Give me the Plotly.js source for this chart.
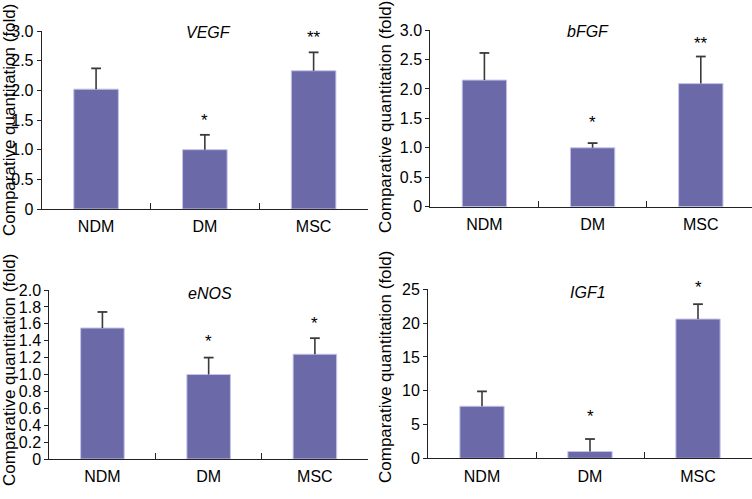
<!DOCTYPE html>
<html>
<head>
<meta charset="utf-8">
<script src="https://cdn.plot.ly/plotly-3.0.1.min.js"></script>
<style>html,body{margin:0;padding:0;background:#fff;}#chart{width:752px;height:499px;}</style>
</head>
<body>
<div id="chart"></div>
<script>
// ---- data ----
var categories = ['NDM', 'DM', 'MSC'];

var vegfMean = [2.02, 1.00, 2.33];
var vegfErr  = [0.35, 0.25, 0.31];
var vegfStars = ['', '*', '**'];

var bfgfMean = [2.15, 1.00, 2.09];
var bfgfErr  = [0.46, 0.08, 0.46];
var bfgfStars = ['', '*', '**'];

var enosMean = [1.55, 1.00, 1.24];
var enosErr  = [0.19, 0.20, 0.19];
var enosStars = ['', '*', '*'];

var igf1Mean = [7.7, 1.0, 20.6];
var igf1Err  = [2.2, 1.85, 2.2];
var igf1Stars = ['', '*', '*'];

var geneNames = ['VEGF', 'bFGF', 'eNOS', 'IGF1'];
var yTitle = 'Comparative quantitation (fold)';

var ticks30 = [0, 0.5, 1.0, 1.5, 2.0, 2.5, 3.0];
var ticks30Text = ['0', '0.5', '1.0', '1.5', '2.0', '2.5', '3.0'];
var ticks20 = [0, 0.2, 0.4, 0.6, 0.8, 1.0, 1.2, 1.4, 1.6, 1.8, 2.0];
var ticks20Text = ['0', '0.2', '0.4', '0.6', '0.8', '1.0', '1.2', '1.4', '1.6', '1.8', '2.0'];
var ticks25 = [0, 5, 10, 15, 20, 25];
var ticks25Text = ['0', '5', '10', '15', '20', '25'];

// ---- styling / layout ----
var W = 752, H = 499;
var FONT = 'Liberation Sans, Arial, sans-serif';
var TXT = '#000';
var barColor = '#6b69a8';
var edgeColor = '#c4c4ea';
var errColor = '#3a3a3a';

var panels = [
  {mean: vegfMean, err: vegfErr, stars: vegfStars, name: geneNames[0], starShift: [0, 3, 3],
   xd: [41.7, 368], y0: 209, y1: 31, xr: [-0.5, 2.5], yr: [0, 3], tv: ticks30, tt: ticks30Text,
   title: [208, 33], ytitle: [9, 120]},
  {mean: bfgfMean, err: bfgfErr, stars: bfgfStars, name: geneNames[1], starShift: [0, 9, 2],
   xd: [430.3, 752], y0: 206.7, y1: 30, xr: [-0.5, -0.5 + (752 - 430.3) / 108.2], yr: [0, 3], tv: ticks30, tt: ticks30Text,
   title: [588, 32], ytitle: [385, 117]},
  {mean: enosMean, err: enosErr, stars: enosStars, name: geneNames[2], starShift: [0, 5, 3],
   xd: [49.3, 368], y0: 459, y1: 290, xr: [-0.5, 2.5], yr: [0, 2], tv: ticks20, tt: ticks20Text,
   title: [210, 293], ytitle: [9, 370]},
  {mean: igf1Mean, err: igf1Err, stars: igf1Stars, name: geneNames[3], starShift: [0, 11, 5],
   xd: [428, 752], y0: 458.3, y1: 289.3, xr: [-0.5, 2.5], yr: [0, 25], tv: ticks25, tt: ticks25Text,
   title: [588, 292], ytitle: [385, 367]}
];

var traces = [];
var layout = {
  width: W, height: H,
  margin: {l: 0, r: 0, t: 0, b: 0},
  paper_bgcolor: '#ffffff', plot_bgcolor: 'rgba(0,0,0,0)',
  showlegend: false,
  font: {family: FONT, size: 16, color: TXT},
  annotations: []
};

panels.forEach(function (p, k) {
  var n = k + 1;
  var xa = 'x' + (n === 1 ? '' : n), ya = 'y' + (n === 1 ? '' : n);
  var xKey = 'xaxis' + (n === 1 ? '' : n), yKey = 'yaxis' + (n === 1 ? '' : n);

  traces.push({
    type: 'bar', x: categories, y: p.mean, xaxis: xa, yaxis: ya,
    width: 0.41,
    marker: {color: barColor, line: {color: edgeColor, width: 1}},
    hoverinfo: 'skip'
  });
  // error stems (upper only)
  var sx = [], sy = [];
  categories.forEach(function (c, i) {
    sx.push(c, c, null);
    sy.push(p.mean[i], p.mean[i] + p.err[i], null);
  });
  traces.push({
    type: 'scatter', mode: 'lines', x: sx, y: sy, xaxis: xa, yaxis: ya,
    line: {color: errColor, width: 1.6}, hoverinfo: 'skip', cliponaxis: false
  });
  traces.push({
    type: 'scatter', mode: 'markers', x: categories,
    y: p.mean.map(function (m, i) { return m + p.err[i]; }),
    xaxis: xa, yaxis: ya,
    marker: {symbol: 'line-ew', size: 7, line: {color: errColor, width: 1.8}},
    hoverinfo: 'skip', cliponaxis: false
  });

  layout[xKey] = {
    domain: [p.xd[0] / W, p.xd[1] / W], anchor: ya, range: p.xr,
    type: 'category', showline: true, linecolor: '#222', linewidth: 1,
    ticks: 'inside', tickson: 'boundaries', ticklen: 6, tickcolor: '#222', tickwidth: 1,
    ticklabelstandoff: 3,
    showgrid: false, zeroline: false, fixedrange: true,
    tickfont: {family: FONT, size: 16, color: TXT}
  };
  layout[yKey] = {
    domain: [1 - p.y0 / H, 1 - p.y1 / H], anchor: xa, range: p.yr,
    showline: true, linecolor: '#222', linewidth: 1,
    ticks: 'outside', ticklen: 4, tickcolor: '#222', tickwidth: 1,
    tickvals: p.tv, ticktext: p.tt,
    showgrid: false, zeroline: false, fixedrange: true,
    tickfont: {family: FONT, size: 16, color: TXT}
  };

  layout.annotations.push({
    xref: 'paper', yref: 'paper', x: p.title[0] / W, y: 1 - p.title[1] / H,
    xanchor: 'center', yanchor: 'middle', showarrow: false,
    text: p.name, font: {family: FONT, size: 16, style: 'italic', color: TXT}
  });
  layout.annotations.push({
    xref: 'paper', yref: 'paper', x: p.ytitle[0] / W, y: 1 - p.ytitle[1] / H,
    xanchor: 'center', yanchor: 'middle', showarrow: false, textangle: -90,
    text: yTitle, font: {family: FONT, size: 17, color: TXT}
  });
  categories.forEach(function (c, i) {
    if (!p.stars[i]) return;
    layout.annotations.push({
      xref: xa, yref: ya, x: c, y: p.mean[i] + p.err[i],
      xanchor: 'center', yanchor: 'bottom', yshift: p.starShift[i], showarrow: false,
      text: p.stars[i], font: {family: FONT, size: 17, color: TXT}
    });
  });
});

Plotly.newPlot('chart', traces, layout, {displayModeBar: false, staticPlot: true});
</script>
</body>
</html>
